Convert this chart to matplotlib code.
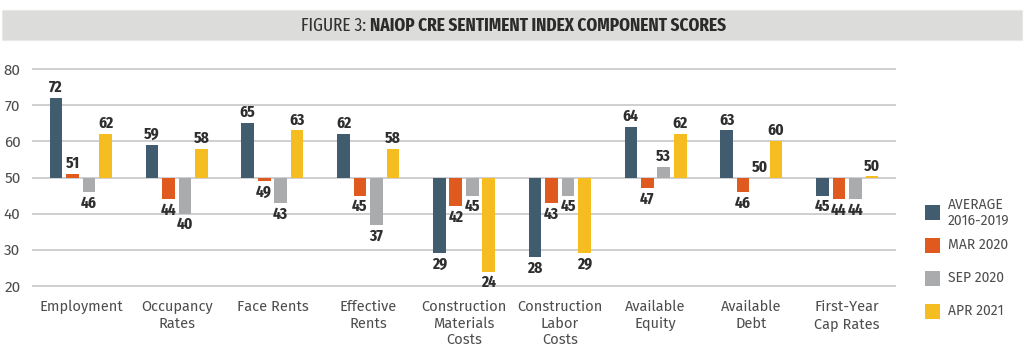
import matplotlib
matplotlib.use("Agg")
import matplotlib.pyplot as plt
import numpy as np
from matplotlib.patches import Rectangle

categories = ["Employment", "Occupancy\nRates", "Face Rents", "Effective\nRents",
              "Construction\nMaterials\nCosts", "Construction\nLabor\nCosts",
              "Available\nEquity", "Available\nDebt", "First-Year\nCap Rates"]
series_names = ["AVERAGE\n2016-2019", "MAR 2020", "SEP 2020", "APR 2021"]
avg_2016_2019 = [72, 59, 65, 62, 29, 28, 64, 63, 45]
mar_2020 = [51, 44, 49, 45, 42, 43, 47, 46, 44]
sep_2020 = [46, 40, 43, 37, 45, 45, 53, 50, 44]
apr_2021 = [62, 58, 63, 58, 24, 29, 62, 60, 50.3]
yticks = [20, 30, 40, 50, 60, 70, 80]

colors = ["#415B6F", "#E05A1F", "#A9ABAC", "#F5BD1F"]
series = [avg_2016_2019, mar_2020, sep_2020, apr_2021]
baseline = 50

COND = ["Fira Sans Extra Condensed", "Fira Sans Condensed", "DejaVu Sans"]
BODY = ["Fira Sans", "DejaVu Sans"]
TXT = "#4d4d4d"

W, H = 1024, 355
fig = plt.figure(figsize=(W / 100, H / 100), dpi=100)

# title band
fig.patches.append(Rectangle((2 / W, 1 - 40 / H), 1020 / W, 30 / H, transform=fig.transFigure,
                             facecolor="#DCDCDB", edgecolor="#E8E8E8", lw=0.8))
fig.text(370 / W, 1 - 25.5 / H, "FIGURE 3: ", ha="right", va="center", fontsize=13.5,
         color="#333333", family=COND, weight="normal")
fig.text(370 / W, 1 - 25.5 / H, "NAIOP CRE SENTIMENT INDEX COMPONENT SCORES", ha="left",
         va="center", fontsize=13.5, color="#2b2b2b", family=COND, weight="bold")

ax = fig.add_axes([33 / W, 1 - 286 / H, (895 - 33) / W, (286 - 69) / H])
ax.set_xlim(-0.5, len(categories) - 0.5)
ax.set_ylim(20, 80)
for s in ax.spines.values():
    s.set_visible(False)
for yv in yticks:
    ax.axhline(yv, color="#CBCBCB", lw=1.3, zorder=0, clip_on=False)

x = np.arange(len(categories))
step = 0.172
width = 0.132
offsets = (np.arange(4) - 1.5) * step
for i, (vals, c) in enumerate(zip(series, colors)):
    vals = np.array(vals, dtype=float)
    ax.bar(x + offsets[i], vals - baseline, width, bottom=baseline, color=c, zorder=2,
           label=series_names[i])
    for xi, v in zip(x + offsets[i], vals):
        lab = f"{round(v):d}"
        if v >= baseline:
            ax.text(xi, v + 0.7, lab, ha="center", va="bottom", fontsize=12,
                    weight="bold", color="#2e2e2e", family=COND)
        else:
            ax.text(xi, v - 0.9, lab, ha="center", va="top", fontsize=12,
                    weight="bold", color="#2e2e2e", family=COND)

ax.set_yticks(yticks)
ax.set_yticklabels([str(v) for v in yticks], fontsize=11, color=TXT, family=BODY)
ax.set_xticks(x)
ax.set_xticklabels(categories, fontsize=10.5, color=TXT, linespacing=1.2, family=BODY)
ax.tick_params(axis="both", length=0)
ax.tick_params(axis="x", pad=10)
ax.tick_params(axis="y", pad=9)

# legend drawn manually to match spacing
leg_y = [213, 245, 278, 311]
for name, c, yc in zip(series_names, colors, leg_y):
    fig.patches.append(Rectangle((925 / W, 1 - (yc + 7.5) / H), 15 / W, 15 / H,
                                 transform=fig.transFigure, facecolor=c, edgecolor="none"))
    fig.text(948 / W, 1 - yc / H, name, ha="left", va="center", fontsize=10, color=TXT,
             family=BODY, linespacing=1.15)

fig.savefig("out.png", dpi=100)
